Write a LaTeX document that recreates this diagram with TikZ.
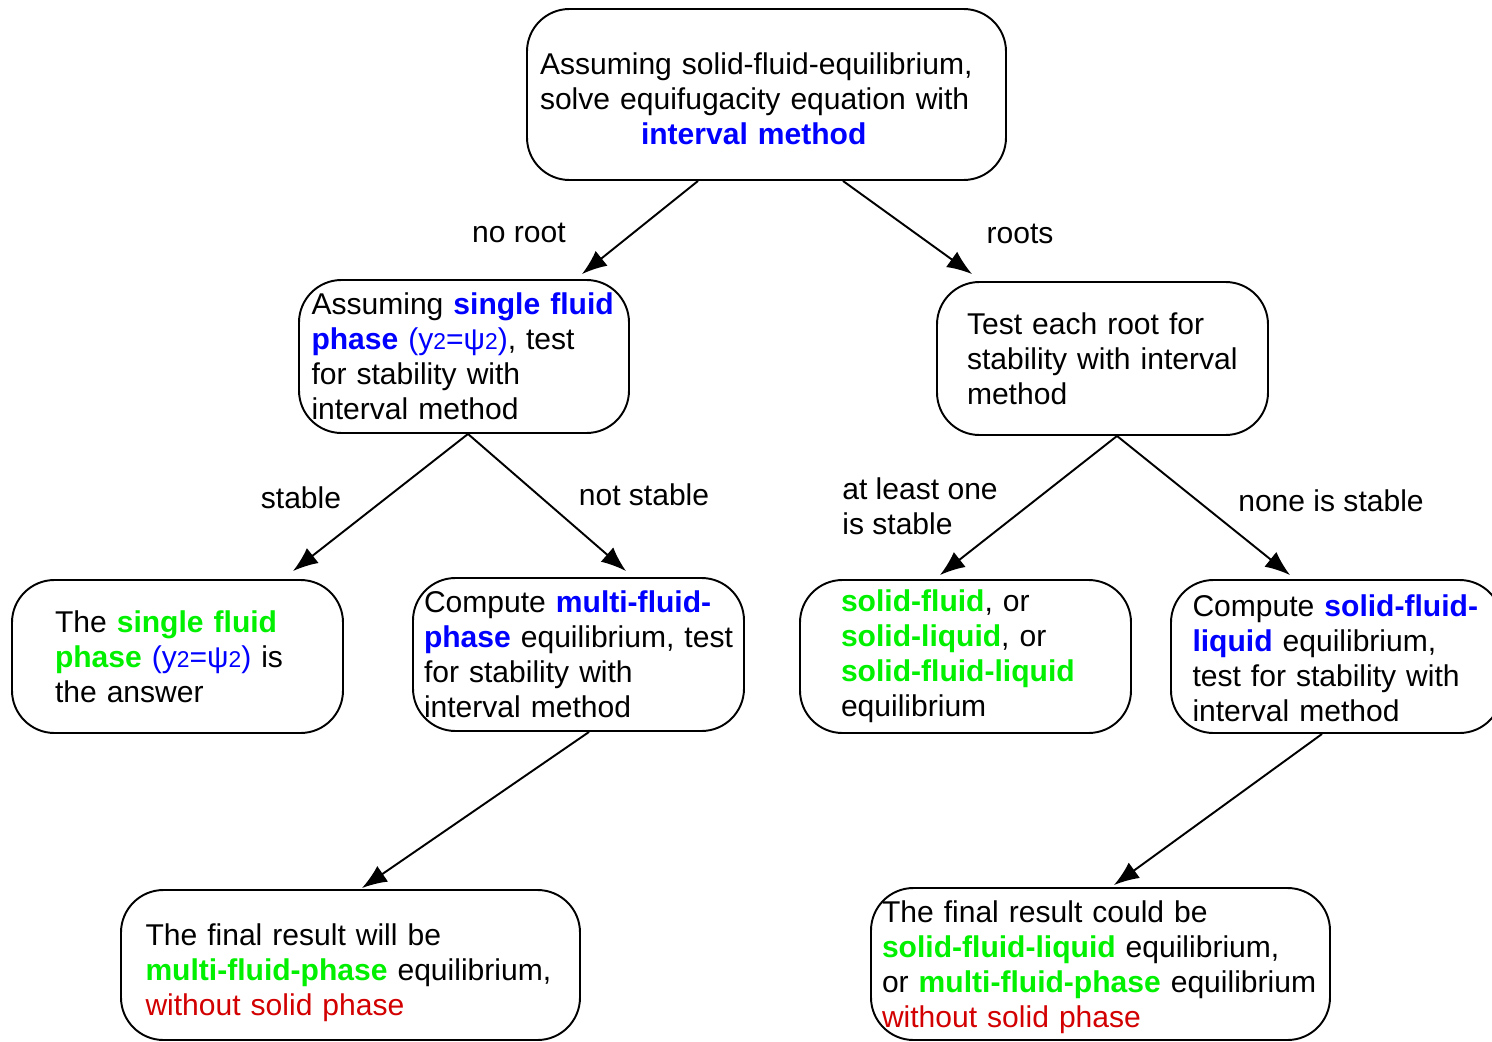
\documentclass[tikz,border=0pt]{standalone}
\usepackage{fontspec}
\setmainfont{Liberation Sans}
\usetikzlibrary{arrows,arrows.meta}
\usetikzlibrary{positioning}
\usetikzlibrary{calc}

\definecolor{bleu}{RGB}{0,0,255}
\definecolor{vert}{RGB}{0,240,0}
\definecolor{rouge}{RGB}{210,0,0}

\begin{document}
\begin{tikzpicture}
    \def\petit#1{{\fontsize{13}{15}\selectfont #1}}
    \def\yeq{{\color{bleu}(y\petit{2}=ψ\petit{2})}}
    \def\haut#1{\rule{0pt}{#1}}
    \tikzstyle{etape}=[draw,line width=1.1pt,rounded corners=0.85cm,align=left,inner sep=0pt,
        minimum width=6.62cm,minimum height=3.06cm,
        font={\fontsize{17.1}{19.9}\selectfont\exhyphenpenalty 10000 \hyphenpenalty 10000 }]
    \tikzstyle{annot}=[font=\fontsize{17.1}{19.9}\selectfont,inner sep=0pt]
    \tikzstyle{fleche}=[line width=1.1pt,-{Latex[length=0.5cm,width=0.38cm]}]

\useasboundingbox (0,0) rectangle (29.84,-20.84);

% Racine
\node[etape,text width=9.06cm,minimum width=9.58cm,minimum height=3.42cm] (R) at (15.33,-1.89)
  {\haut{17.1pt}Assuming solid-fluid-equilibrium,\\ solve equifugacity equation with\\
   \hspace*{2.02cm}{\color{bleu}\bfseries interval method}};

% Deuxieme niveau
\node[etape,text width=6.1cm,minimum width=6.6cm] (S) at (9.28,-7.13)
  {Assuming {\color{bleu}\bfseries single fluid}\\ {\color{bleu}\bfseries phase} \yeq, test\\
   for stability with\\ interval method};
\node[etape,text width=5.42cm] (T) at (22.05,-7.17)
  {Test each root for\\ stability with interval\\ method};

% Troisieme niveau
\node[etape,text width=4.9cm] (A) at (3.55,-13.13)
  {The {\color{vert}\bfseries single fluid}\\ {\color{vert}\bfseries phase} \yeq{} is\\ the answer};
\node[etape,text width=6.18cm] (B) at (11.57,-13.09)
  {Compute {\color{bleu}\bfseries multi-fluid-}\\ {\color{bleu}\bfseries phase} equilibrium, test\\
   for stability with\\ interval method};
\node[etape,text width=4.98cm] (C) at (19.31,-13.13)
  {{\color{vert}\bfseries solid-fluid}, or\\ {\color{vert}\bfseries solid-liquid}, or\\
   {\color{vert}\bfseries solid-fluid-liquid}\\ equilibrium};
\node[etape,text width=5.76cm] (D) at (26.73,-13.13)
  {\haut{14.5pt}Compute {\color{bleu}\bfseries solid-fluid-}\\ {\color{bleu}\bfseries liquid} equilibrium,\\
   test for stability with\\ interval method};

% Resultats
\node[etape,text width=8.2cm,minimum width=9.18cm,minimum height=3.0cm] (E) at (7.01,-19.3)
  {\haut{21.5pt}The final result will be\\ {\color{vert}\bfseries multi-fluid-phase} equilibrium,\\
   {\color{rouge}without solid phase}};
\node[etape,text width=8.74cm,minimum width=9.18cm,minimum height=3.04cm] (F) at (22.01,-19.28)
  {\haut{16pt}The final result could be\\ {\color{vert}\bfseries solid-fluid-liquid} equilibrium,\\
   or {\color{vert}\bfseries multi-fluid-phase} equilibrium\\ {\color{rouge}without solid phase}};

% Fleches
\draw[fleche] ([xshift=-1.37cm]R.south) -- ([xshift=2.36cm,yshift=0.1cm]S.north);
\draw[fleche] ([xshift=1.53cm]R.south) -- ([xshift=-2.61cm,yshift=0.14cm]T.north);
\draw[fleche] ([xshift=0.08cm]S.south) -- ([xshift=2.31cm,yshift=0.16cm]A.north);
\draw[fleche] ([xshift=0.08cm]S.south) -- ([xshift=0.95cm,yshift=0.12cm]B.north);
\draw[fleche] ([xshift=0.29cm]T.south) -- ([xshift=-0.51cm,yshift=0.08cm]C.north);
\draw[fleche] ([xshift=0.29cm]T.south) -- ([xshift=-0.93cm,yshift=0.08cm]D.north);
\draw[fleche] ([xshift=0.21cm]B.south) -- ([xshift=0.23cm,yshift=0.02cm]E.north);
\draw[fleche] ([xshift=-0.29cm]D.south) -- ([xshift=0.27cm,yshift=0.04cm]F.north);

% Etiquettes
\node[annot] (L-noroot) at (10.38,-4.66) {no root};
\node[annot] (L-roots) at (20.4,-4.68) {roots};
\node[annot] (L-stable) at (6.02,-9.96) {stable};
\node[annot] (L-notstable) at (12.88,-9.9) {not stable};
\node[annot,align=left,anchor=west] (L-atleast) at (16.84,-10.13) {at least one\\ is stable};
\node[annot] (L-none) at (26.62,-10.02) {none is stable};

\end{tikzpicture}
\end{document}
